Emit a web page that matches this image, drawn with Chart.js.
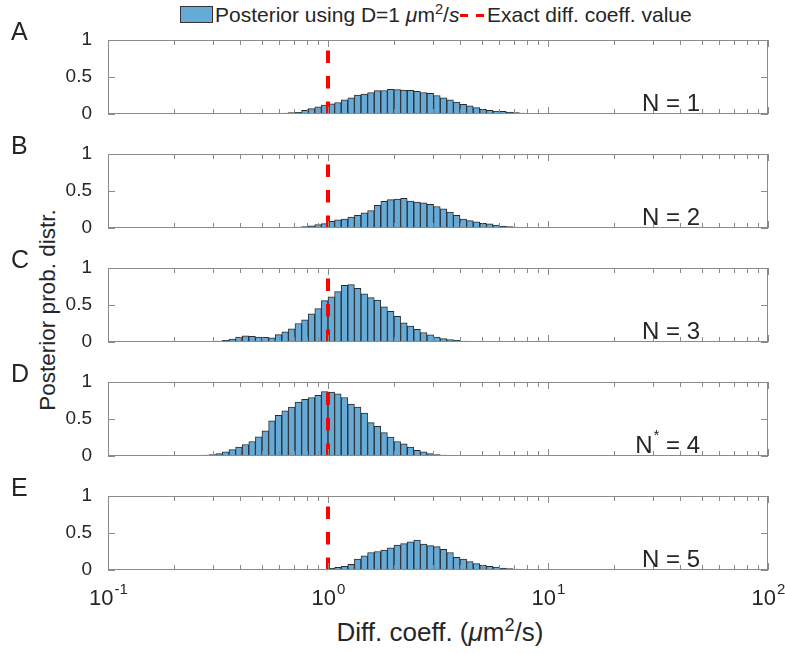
<!DOCTYPE html>
<html>
<head>
<meta charset="utf-8">
<script src="https://cdn.jsdelivr.net/npm/chart.js@4.4.1/dist/chart.umd.min.js"></script>
<style>
  body { margin: 0; background: #fff; }
  #fig { position: relative; width: 785px; height: 654px; overflow: hidden;
         font-family: "Liberation Sans", Arial, sans-serif; color: #262626; }
  .panel { position: absolute; left: 0; width: 785px; }
  .letter { position: absolute; left: 11px; font-size: 25px; line-height: 25px; }
  .swatch { position: absolute; left: 180px; top: 6px; width: 31px; height: 15px;
            background: #66aad7; border: 1px solid #333; }
  .ltext { position: absolute; top: 3px; font-size: 21px; line-height: 24px; white-space: nowrap; }
  .dash { position: absolute; top: 14px; width: 8px; height: 3px; background: #ff0000; }
  #ytitle { position: absolute; left: 48px; top: 310px; font-size: 22.5px; white-space: nowrap;
            transform: translate(-50%, -50%) rotate(-90deg); }
  #xtitle { position: absolute; left: 440px; top: 632px; font-size: 26px; white-space: nowrap;
            transform: translate(-50%, -50%); }
  sup { font-size: 70%; line-height: 0; }
</style>
</head>
<body>
<div id="fig">
  <div class="swatch"></div>
  <div class="ltext" style="left:215px">Posterior using D=1 <i>μ</i>m<sup>2</sup>/<i>s</i></div>
  <div class="dash" style="left:460px"></div>
  <div class="dash" style="left:476px"></div>
  <div class="ltext" style="left:487px">Exact diff. coeff. value</div>
  <div id="ytitle">Posterior prob. distr.</div>
  <div id="xtitle">Diff. coeff. (<i>μ</i>m<sup>2</sup>/s)</div>
</div>
<script>
// histogram bins: log10 width, first bin index per panel (bin k spans [k, k+1] * binWidthLog)
const binWidthLog = 0.03;
const panelNames = ['A', 'B', 'C', 'D', 'E'];
const panelN = [1, 2, 3, 4, 5];
const panelStar = ['', '', '', '*', ''];
const firstBin = [-15, -7, -17, -22, -3];

const postA = [0.003, 0.004, 0.004, 0.005, 0.006, 0.007, 0.008, 0.010,
  0.014, 0.018, 0.023, 0.050, 0.073, 0.096, 0.120,
  0.137, 0.155, 0.190, 0.220, 0.255, 0.270, 0.290, 0.315, 0.318, 0.333, 0.330,
  0.324, 0.320, 0.306, 0.290, 0.280, 0.250, 0.220, 0.190, 0.160, 0.130, 0.110,
  0.087, 0.064, 0.050, 0.041, 0.037, 0.027, 0.018, 0.014, 0.009, 0.005, 0.003];
const postB = [0.005, 0.009, 0.014, 0.018, 0.030, 0.045, 0.060,
  0.090, 0.110, 0.120, 0.146, 0.170, 0.205, 0.237, 0.306, 0.360, 0.384, 0.390,
  0.400, 0.365, 0.350, 0.340, 0.320, 0.290, 0.260, 0.215, 0.170, 0.120, 0.100,
  0.082, 0.064, 0.055, 0.041, 0.027, 0.018, 0.014, 0.009, 0.005, 0.003];
const postC = [0.014, 0.023, 0.040, 0.068, 0.082, 0.078, 0.068, 0.064, 0.055,
  0.100, 0.137, 0.178, 0.250, 0.300, 0.380, 0.450, 0.560,
  0.610, 0.680, 0.767, 0.776, 0.726, 0.650, 0.600, 0.566, 0.475, 0.415, 0.347,
  0.260, 0.215, 0.170, 0.128, 0.096, 0.068, 0.046, 0.032, 0.023, 0.014, 0.009,
  0.005, 0.003];
const postD = [0.008, 0.009, 0.009, 0.012, 0.018, 0.032, 0.055, 0.087, 0.120,
  0.155, 0.196, 0.260, 0.340, 0.475, 0.550, 0.610, 0.660, 0.730, 0.767, 0.790,
  0.820, 0.872, 0.863, 0.840, 0.790, 0.700, 0.660, 0.580, 0.450, 0.400, 0.315,
  0.256, 0.196, 0.164, 0.120, 0.078, 0.055, 0.032, 0.018, 0.012, 0.009, 0.005, 0.003];
const postE = [0.005, 0.009, 0.010,
  0.023, 0.037, 0.050, 0.078, 0.146, 0.190, 0.237, 0.250, 0.270, 0.300, 0.338,
  0.356, 0.380, 0.406, 0.350, 0.330, 0.315, 0.280, 0.237, 0.170, 0.146, 0.114,
  0.087, 0.068, 0.050, 0.041, 0.027, 0.018, 0.014, 0.009, 0.005];
const posteriors = [postA, postB, postC, postD, postE];

const exactD = 1;
const xTickValues = [0.1, 1, 10, 100];
const xTickBase = '10';
const xTickExp = ['-1', '0', '1', '2'];
const xMinorMult = [2, 3, 4, 5, 6, 7, 8, 9];
const yTickValues = [0, 0.5, 1];
const yTickLabels = ['0', '0.5', '1'];

// layout of the 5 stacked axes (pixels in the figure)
const panelTop = [40, 154, 268, 382, 496];
const panelHeight = 74;
const plotLeft = 108, plotRight = 768;
const padTop = 20;
const FONT = '"Liberation Sans", Arial, sans-serif';

Chart.defaults.font.family = FONT;
Chart.defaults.color = '#262626';

var boxTicks = {
    id: 'boxTicks',
    afterDatasetsDraw: function(chart, args, opts) {
        var ctx = chart.ctx, a = chart.chartArea;
        var x = chart.scales.x, y = chart.scales.y;
        ctx.save();
        ctx.strokeStyle = '#8a8a8a';
        ctx.lineWidth = 1;
        ctx.strokeRect(a.left + 0.5, a.top + 0.5, a.right - a.left - 1, a.bottom - a.top - 1);
        ctx.beginPath();
        xTickValues.forEach(function(dec, i) {
            var vals = [dec];
            if (i < xTickValues.length - 1) xMinorMult.forEach(function(m) { vals.push(dec * m); });
            vals.forEach(function(v, j) {
                var px = Math.round(x.getPixelForValue(v)) + 0.5;
                var len = j === 0 ? 7 : 5;
                ctx.moveTo(px, a.bottom); ctx.lineTo(px, a.bottom - len);
                ctx.moveTo(px, a.top); ctx.lineTo(px, a.top + len);
            });
        });
        yTickValues.forEach(function(v) {
            var py = Math.round(y.getPixelForValue(v)) + 0.5;
            ctx.moveTo(a.left, py); ctx.lineTo(a.left + 7, py);
            ctx.moveTo(a.right, py); ctx.lineTo(a.right - 7, py);
        });
        ctx.stroke();

        ctx.fillStyle = '#262626';
        ctx.textBaseline = 'alphabetic';
        ctx.textAlign = 'left';

        // "N = n" annotation, right edge near the 10^1.8 mark
        var big = '24px ' + FONT, small = '15px ' + FONT;
        ctx.font = big;
        var wN = ctx.measureText('N').width;
        var rest = ' = ' + opts.n;
        var wR = ctx.measureText(rest).width;
        ctx.font = small;
        var wS = opts.star ? ctx.measureText(opts.star).width + 1 : 0;
        var tx = a.right - 68 - (wN + wS + wR), ty = a.bottom - 3;
        ctx.font = big;
        ctx.fillText('N', tx, ty);
        if (opts.star) {
            ctx.font = small;
            ctx.fillText(opts.star, tx + wN + 1, ty - 13);
            ctx.font = big;
        }
        ctx.fillText(rest, tx + wN + wS, ty);

        // decade tick labels 10^k under the bottom axes
        if (opts.xLabels) {
            xTickValues.forEach(function(v, i) {
                var px = x.getPixelForValue(v);
                ctx.font = '22px ' + FONT;
                var wb = ctx.measureText(xTickBase).width;
                ctx.font = '15px ' + FONT;
                var we = ctx.measureText(xTickExp[i]).width;
                var left = px - (wb + we) / 2;
                ctx.font = '22px ' + FONT;
                ctx.fillText(xTickBase, left, a.bottom + 35);
                ctx.font = '15px ' + FONT;
                ctx.fillText(xTickExp[i], left + wb + 1, a.bottom + 24);
            });
        }
        ctx.restore();
    }
};

function makePanel(i) {
    var last = i === panelNames.length - 1;
    var padBottom = last ? 45 : 20;
    var h = padTop + panelHeight + padBottom;

    var div = document.createElement('div');
    div.className = 'panel';
    div.style.top = (panelTop[i] - padTop) + 'px';
    div.style.height = h + 'px';
    var canvas = document.createElement('canvas');
    canvas.width = 785; canvas.height = h;
    div.appendChild(canvas);
    document.getElementById('fig').appendChild(div);

    var letter = document.createElement('div');
    letter.className = 'letter';
    letter.style.top = (panelTop[i] - 21) + 'px';
    letter.textContent = panelNames[i];
    document.getElementById('fig').appendChild(letter);

    var bars = posteriors[i].map(function(v, j) {
        return { x: Math.pow(10, (firstBin[i] + j + 0.5) * binWidthLog), y: v };
    });

    new Chart(canvas.getContext('2d'), {
        type: 'bar',
        data: {
            datasets: [{
                type: 'line',
                data: [{ x: exactD, y: 0 }, { x: exactD, y: 1 }],
                borderColor: '#ff0000',
                borderWidth: 4,
                borderDash: [12.5, 13],
                pointRadius: 0,
                order: 0
            }, {
                type: 'bar',
                data: bars,
                backgroundColor: '#66aad7',
                borderColor: '#2b2b2b',
                borderWidth: 1,
                borderSkipped: 'start',
                barPercentage: 1,
                categoryPercentage: 1,
                order: 1
            }]
        },
        options: {
            responsive: false,
            animation: false,
            devicePixelRatio: 1,
            layout: { padding: { top: padTop, right: 785 - plotRight, bottom: padBottom, left: 0 } },
            plugins: {
                legend: { display: false },
                tooltip: { enabled: false },
                boxTicks: { n: panelN[i], star: panelStar[i], xLabels: last }
            },
            scales: {
                x: {
                    type: 'logarithmic',
                    min: 0.1, max: 100,
                    display: false,
                    afterBuildTicks: function(s) { s.ticks = xTickValues.map(function(v) { return { value: v }; }); }
                },
                y: {
                    min: 0, max: 1,
                    grid: { display: false },
                    border: { display: false },
                    afterBuildTicks: function(s) { s.ticks = yTickValues.map(function(v) { return { value: v }; }); },
                    afterFit: function(s) { s.width = plotLeft; },
                    ticks: {
                        padding: 8,
                        font: { size: 19 },
                        callback: function(v) { return yTickLabels[yTickValues.indexOf(v)]; }
                    }
                }
            }
        },
        plugins: [boxTicks]
    });
}

for (var p = 0; p < panelNames.length; p++) makePanel(p);
</script>
</body>
</html>
